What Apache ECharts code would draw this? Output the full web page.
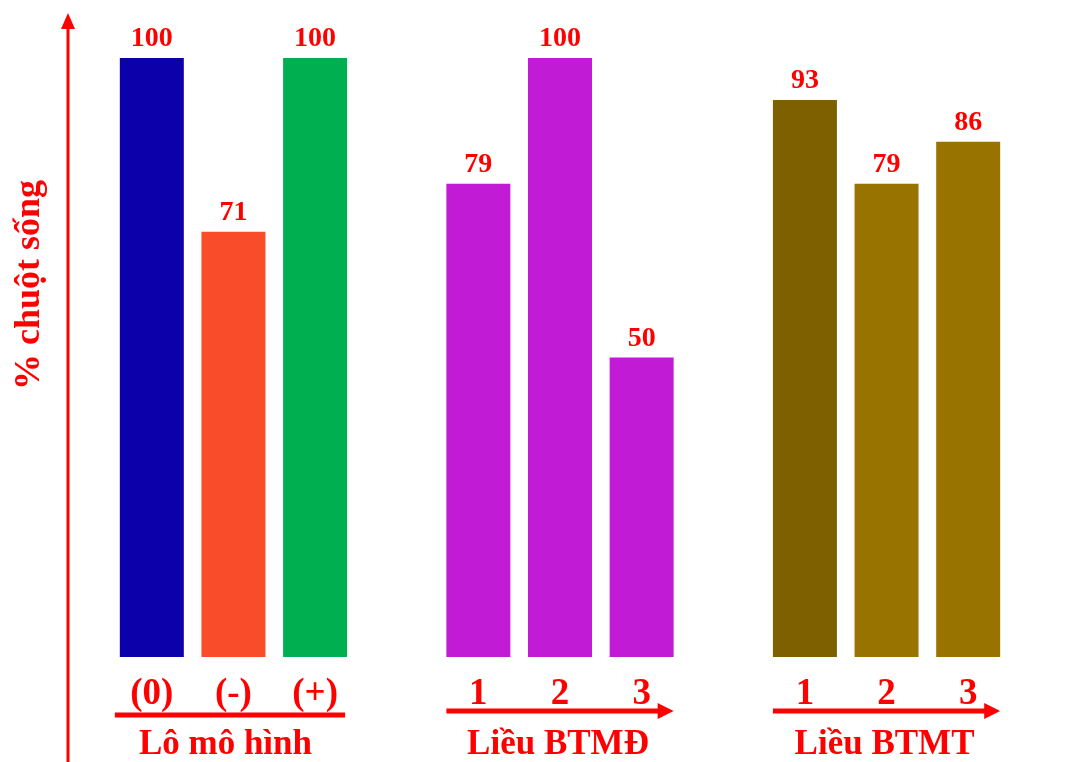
<!DOCTYPE html>
<html>
<head>
<meta charset="utf-8">
<script src="https://cdn.jsdelivr.net/npm/echarts@6/dist/echarts.min.js"></script>
<style>
  html, body { margin: 0; padding: 0; background: #fff; }
  #chart { width: 1073px; height: 762px; }
</style>
</head>
<body>
<div id="chart"></div>
<script>
// Survival rate (%) of mice per group
var groupNames = ['Lô mô hình', 'Liều BTMĐ', 'Liều BTMT'];
var groupTicks = [['(0)', '(-)', '(+)'], ['1', '2', '3'], ['1', '2', '3']];
var modelValues = [100, 71, 100];
var btmdValues = [79, 100, 50];
var btmtValues = [93, 79, 86];
var groupColors = [
  ['#0C00AB', '#F84C2B', '#00AF50'],
  ['#C21BD5', '#C21BD5', '#C21BD5'],
  ['#7F6000', '#997300', '#997300']
];
var yTitle = '% chuột sống';
var groupArrows = [false, true, true];

var RED = '#FF0000';
var FONT = '"Liberation Serif", "Times New Roman", serif';

// Build an 11-slot category axis with an empty slot between groups
var groupValues = [modelValues, btmdValues, btmtValues];
var categories = [];
var seriesData = [];
var groupSlots = [];
groupValues.forEach(function (vals, g) {
  if (g > 0) { categories.push(''); seriesData.push('-'); }
  var slots = [];
  vals.forEach(function (v, i) {
    slots.push(categories.length);
    categories.push(groupTicks[g][i]);
    seriesData.push({ value: v, itemStyle: { color: groupColors[g][i] } });
  });
  groupSlots.push(slots);
});

var chart = echarts.init(document.getElementById('chart'));
chart.setOption({
  backgroundColor: '#fff',
  animation: false,
  grid: { left: 111, right: 64, top: 58, bottom: 105 },
  xAxis: {
    type: 'category',
    data: categories,
    axisLine: { show: false },
    axisTick: { show: false },
    axisLabel: {
      interval: 0,
      margin: 19,
      color: RED,
      fontFamily: FONT,
      fontWeight: 'bold',
      fontSize: 37
    }
  },
  yAxis: {
    type: 'value',
    min: 0,
    max: 100,
    show: false
  },
  series: [{
    type: 'bar',
    data: seriesData,
    barWidth: 64,
    label: {
      show: true,
      position: 'top',
      distance: 5,
      color: RED,
      fontFamily: FONT,
      fontWeight: 'bold',
      fontSize: 28
    }
  }]
});

// Decorations: vertical axis arrow, y title, group underlines and group names
var graphics = [];
graphics.push({
  type: 'line', shape: { x1: 68, y1: 762, x2: 68, y2: 24 },
  style: { stroke: RED, lineWidth: 3 }
});
graphics.push({
  type: 'polygon', shape: { points: [[68, 13], [61, 29], [75, 29]] },
  style: { fill: RED }
});
graphics.push({
  type: 'text', x: 30, y: 285, rotation: Math.PI / 2,
  style: {
    text: yTitle, fill: RED, font: 'bold 36px ' + FONT,
    align: 'center', verticalAlign: 'middle'
  }
});
groupSlots.forEach(function (slots, g) {
  var xa = chart.convertToPixel({ xAxisIndex: 0 }, slots[0]) - 32;
  var xb = chart.convertToPixel({ xAxisIndex: 0 }, slots[slots.length - 1]) + 32;
  var xc = chart.convertToPixel({ xAxisIndex: 0 }, slots[1]);
  if (groupArrows[g]) {
    var ly = 711;
    graphics.push({
      type: 'line', shape: { x1: xa, y1: ly, x2: xb - 12, y2: ly },
      style: { stroke: RED, lineWidth: 5 }
    });
    graphics.push({
      type: 'polygon', shape: { points: [[xb, ly], [xb - 16, ly - 8], [xb - 16, ly + 8]] },
      style: { fill: RED }
    });
  } else {
    graphics.push({
      type: 'line', shape: { x1: xa - 5, y1: 715, x2: xb - 2, y2: 715 },
      style: { stroke: RED, lineWidth: 5 }
    });
  }
  graphics.push({
    type: 'text', x: xc - (g === 0 ? 8 : 2), y: 745,
    style: {
      text: groupNames[g], fill: RED, font: 'bold 35px ' + FONT,
      align: 'center', verticalAlign: 'middle'
    }
  });
});
chart.setOption({ graphic: graphics });
</script>
</body>
</html>
